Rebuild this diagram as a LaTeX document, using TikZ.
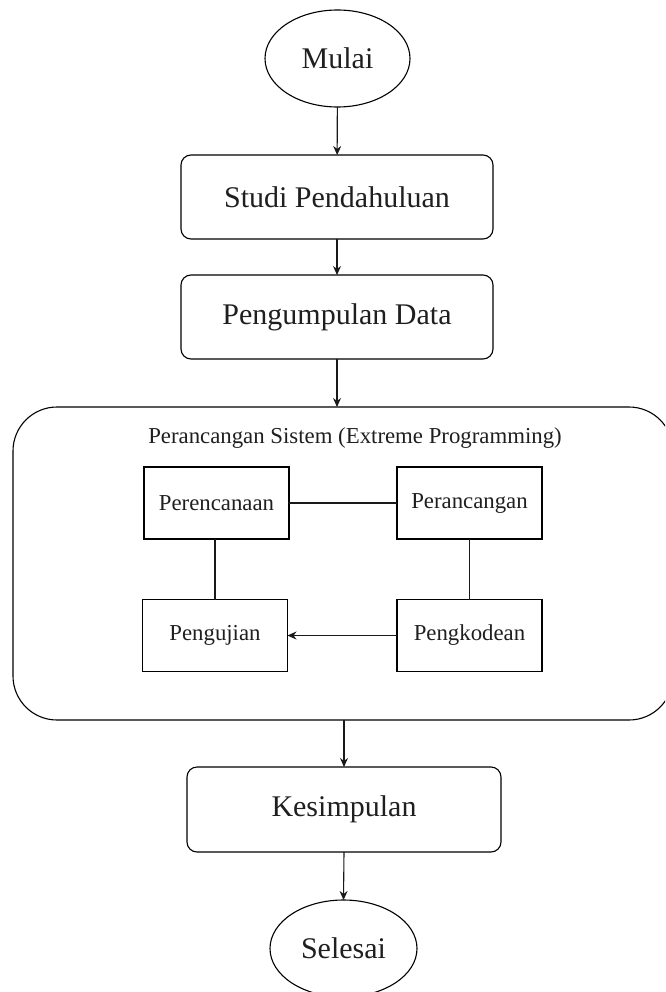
\documentclass[tikz,border=0pt]{standalone}
\usepackage{fontspec}
\setmainfont{Liberation Serif}
\usetikzlibrary{shapes.geometric,arrows.meta}
\tikzset{
  every node/.style={inner sep=0pt, outer sep=0pt, text=black!88},
  bigfont/.style={font=\fontsize{30}{36}\selectfont},
  smallfont/.style={font=\fontsize{22.8}{27}\selectfont},
  oval/.style={draw, ellipse, line width=1.1pt, bigfont},
  procbox/.style={draw, rectangle, rounded corners=10pt, line width=1.1pt, minimum width=312pt, minimum height=84pt, bigfont},
  stagebox/.style={draw, rectangle, line width=1.1pt, minimum width=145pt, minimum height=72pt, smallfont},
  groupbox/.style={draw, rectangle, rounded corners=44pt, line width=1.1pt},
  conn/.style={line width=1.1pt, draw=black!90},
  flow/.style={conn, -{Stealth[length=9pt,width=8pt]}}
}
\begin{document}
\begin{tikzpicture}[x=1pt,y=-1pt]
\useasboundingbox (0,0) rectangle (665,992);
\clip (0,0) rectangle (665,992);
\node[oval, minimum width=145pt, minimum height=97pt] (mulai) at (337.5,58.5) {Mulai};
\node[procbox] (studi) at (337,197) {Studi Pendahuluan};
\node[procbox] (kumpul) at (337,317) {Pengumpulan Data};
\node[groupbox, minimum width=660pt, minimum height=313pt] (group) at (343,563.5) {};
\node[smallfont] (title) at (355,438) {Perancangan Sistem (Extreme Programming)};
\node[stagebox] (perenc) at (216.5,503) {Perencanaan};
\node[stagebox] (peranc) at (469.5,503) {Perancangan};
\node[stagebox] (uji) at (215,635.5) {Pengujian};
\node[stagebox] (kode) at (469.5,635.5) {Pengkodean};
\node[procbox, minimum width=314pt, minimum height=85pt] (kesim) at (344,809.5) {Kesimpulan};
\node[oval, minimum width=147pt, minimum height=97pt] (selesai) at (343.5,948.5) {Selesai};

\draw[flow] (mulai) -- (studi);
\draw[flow] (studi) -- (kumpul);
\draw[flow] (kumpul.south) -- (kumpul.south |- group.north);
\draw[conn] (perenc.east) -- (peranc.west);
\draw[conn] (perenc.south -| uji.north) -- (uji.north);
\draw[conn] (peranc.south) -- (kode.north);
\draw[flow] (kode.west) -- (uji.east);
\draw[flow] (group.south -| kesim.north) -- (kesim.north);
\draw[flow] (kesim.south) -- (selesai.north);
\end{tikzpicture}
\end{document}
